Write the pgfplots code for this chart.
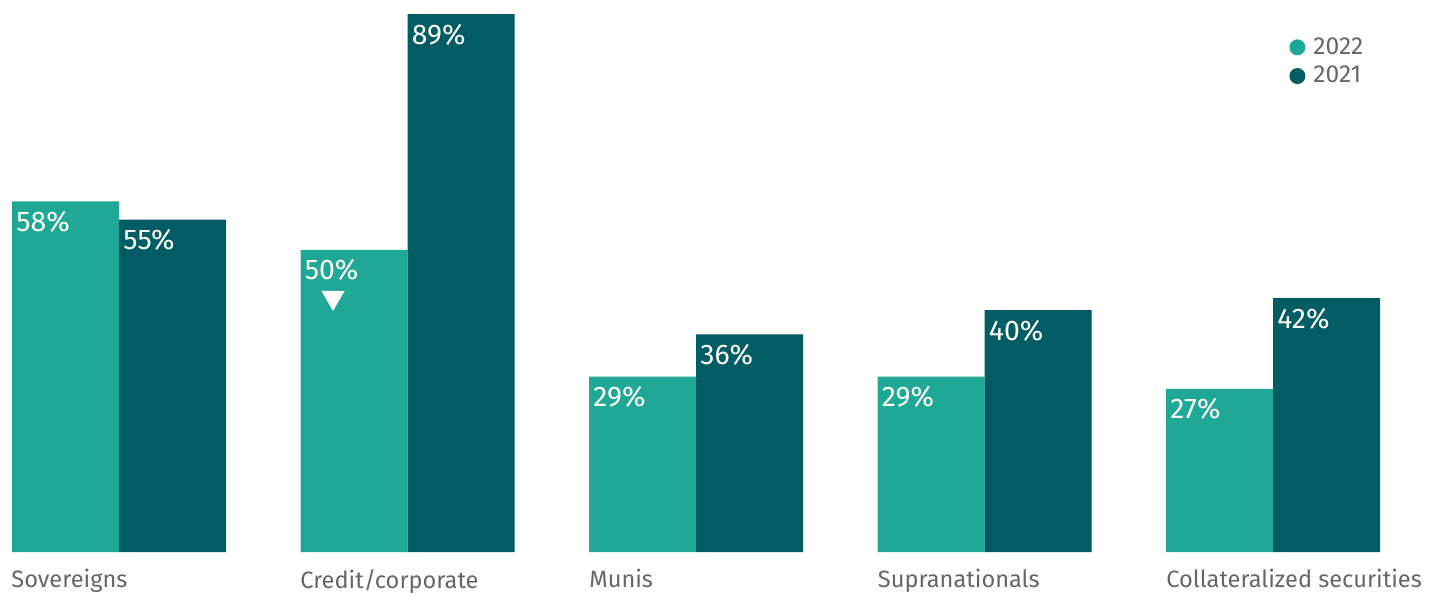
\documentclass[border=0pt]{standalone}
\usepackage{fontspec}
\setmainfont{Fira Sans}
\usepackage{pgfplots}
\pgfplotsset{compat=1.18}
\definecolor{c22}{RGB}{32,168,150}
\definecolor{c21}{RGB}{2,92,100}
\definecolor{txtgray}{RGB}{102,102,102}
\begin{document}
\begin{tikzpicture}
\begin{axis}[
  scale only axis,
  width=720pt, height=276pt,
  xmin=0, xmax=1440,
  ymin=0, ymax=91.32,
  axis line style={draw=none},
  major tick length=0pt,
  ytick=\empty,
  xtick={11,300,589,877.5,1166},
  xticklabels={Sovereigns,Credit/corporate,Munis,Supranationals,Collateralized securities},
  x tick label style={anchor=north west, inner sep=0pt, yshift=-8.5pt, font=\fontsize{11.8}{14}\selectfont, text=txtgray},
  clip=false,
  /pgf/number format/assume math mode=true,
  nodes near coords={\pgfmathprintnumber{\pgfplotspointmeta}\%},
  every node near coord/.append style={anchor=north west, inner sep=0pt, xshift=-24.75pt, yshift=-4.8pt, text=white, font=\fontsize{14.2}{16}\selectfont},
  legend style={draw=none, fill=none, at={(1289/1440,0.94)}, anchor=north west, font=\fontsize{12.3}{14}\selectfont, text=txtgray, legend cell align=left, inner sep=0pt, row sep=0.5pt, column sep=2pt},
]
\addplot[ybar, bar width=107, bar shift=0pt, fill=c22, draw=none,
  legend image code/.code={\fill[c22] (4pt,0pt) circle (4pt);}]
  coordinates {(65.5,58) (354,50) (642.5,29) (931,29) (1219.5,27)};
\addlegendentry{2022}
\addplot[ybar, bar width=107, bar shift=0pt, fill=c21, draw=none,
  legend image code/.code={\fill[c21] (4pt,0pt) circle (4pt);}]
  coordinates {(172.5,55) (461,89) (749.5,36) (1038,40) (1326.5,42)};
\addlegendentry{2021}
\addplot[only marks, mark=triangle*, mark size=6.3pt, color=white, mark options={rotate=180, fill=white, draw=white}, forget plot, nodes near coords={}]
  coordinates {(333,42.1)};
\end{axis}
\pgfresetboundingbox
\path[use as bounding box] ([yshift=-21pt]current axis.south west) rectangle (current axis.north east);
\end{tikzpicture}
\end{document}
